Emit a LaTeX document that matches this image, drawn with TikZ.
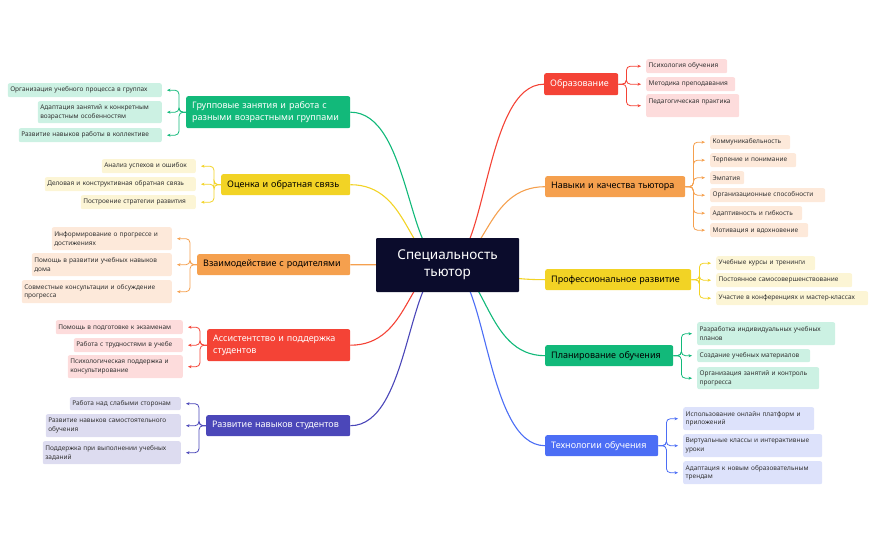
\documentclass[tikz,border=0pt]{standalone}
\usepackage{fontspec}
\setmainfont{Noto Sans}
\usetikzlibrary{arrows.meta,calc}
\definecolor{cR}{HTML}{F44336}\definecolor{lR}{HTML}{FDDCDC}
\definecolor{cO}{HTML}{F5A04E}\definecolor{lO}{HTML}{FDE9DA}
\definecolor{cY}{HTML}{F2D325}\definecolor{lY}{HTML}{FCF5D5}
\definecolor{cG}{HTML}{12B97A}\definecolor{lG}{HTML}{CCF1E3}
\definecolor{cB}{HTML}{4C6EF5}\definecolor{lB}{HTML}{DDE2FB}
\definecolor{cP}{HTML}{4B47B9}\definecolor{lP}{HTML}{DDDCF0}
\definecolor{cC}{HTML}{0B0C2C}
\tikzset{
 br/.style={rounded corners=2pt,inner sep=0pt,font=\fontsize{9}{11.5}\selectfont,align=left},
 lf/.style={rounded corners=2pt,inner sep=0pt,font=\fontsize{6.5}{8.6}\selectfont,align=left,text=black!80},
 conn/.style={line width=1.1pt},
 lc/.style={line width=0.8pt,rounded corners=4pt,-{Stealth[length=3.5pt,width=3pt]},shorten >=5pt},
}
\newcommand\lfR[7]{\node[lf,fill=#6,anchor=north west,minimum width=#4pt,minimum height=#5pt,text width=#4pt-5pt] (#1) at (#2,#3) {#7};}
\newcommand\lfL[7]{\node[lf,fill=#6,anchor=north east,minimum width=#4pt,minimum height=#5pt,text width=#4pt-5pt] (#1) at (#2,#3) {#7};}
\newcommand\bnode[8]{\node[br,fill=#6,text=#7,anchor=north west,minimum width=#4pt,minimum height=#5pt,text width=#4pt-12pt] (#1) at (#2,#3) {#8};}
\begin{document}
\begin{tikzpicture}[x=1pt,y=-1pt]
\useasboundingbox (0,0) rectangle (877,543);
\coordinate (c0) at (447,265);
\bnode{b1}{544}{73}{74}{22}{cR}{white}{Образование}
\bnode{b2}{545}{176}{140}{21}{cO}{black}{Навыки и качества тьютора}
\bnode{b3}{545}{269}{146}{21}{cY}{black}{Профессиональное развитие}
\bnode{b4}{545}{345}{128}{21}{cG}{black}{Планирование обучения}
\bnode{b5}{545}{435}{113}{21}{cB}{white}{Технологии обучения}
\bnode{a1}{186}{96}{164}{32}{cG}{white}{Групповые занятия и работа с разными возрастными группами}
\bnode{a2}{221}{174}{129}{21}{cY}{black}{Оценка и обратная связь}
\bnode{a3}{197}{254}{153}{21}{cO}{black}{Взаимодействие с родителями}
\bnode{a4}{207}{329}{143}{32}{cR}{white}{Ассистентство и поддержка студентов}
\bnode{a5}{206}{415}{144}{21}{cP}{white}{Развитие навыков студентов}
\foreach \b/\c in {b1/cR,b2/cO,b3/cY,b4/cG,b5/cB}
  \draw[conn,draw=\c] (c0) .. controls ($(c0)+(40,0)$) and ($(\b.west)+(-60,0)$) .. (\b.west);
\foreach \b/\c in {a1/cG,a2/cY,a3/cO,a4/cR,a5/cP}
  \draw[conn,draw=\c] (c0) .. controls ($(c0)+(-40,0)$) and ($(\b.east)+(60,0)$) .. (\b.east);
\node[fill=cC,text=white,minimum width=143pt,minimum height=54pt,inner sep=0pt,align=center,font=\fontsize{13.5}{17}\selectfont,rounded corners=1pt] (c) at (447.5,265) {Специальность\\тьютор};
\lfR{r11}{646}{59}{81}{14}{lR}{Психология обучения}
\lfR{r12}{646}{77}{89}{14}{lR}{Методика преподавания}
\lfR{r13}{646}{94}{93}{23}{lR}{Педагогическая практика\\\mbox{}}
\lfR{r21}{710}{135}{80}{14}{lO}{Коммуникабельность}
\lfR{r22}{710}{153}{86}{14}{lO}{Терпение и понимание}
\lfR{r23}{710}{171}{34}{13}{lO}{Эмпатия}
\lfR{r24}{710}{188}{115}{14}{lO}{Организационные способности}
\lfR{r25}{710}{206}{92}{14}{lO}{Адаптивность и гибкость}
\lfR{r26}{710}{223}{98}{14}{lO}{Мотивация и вдохновение}
\lfR{r31}{716}{256}{99}{14}{lY}{Учебные курсы и тренинги}
\lfR{r32}{716}{273}{136}{14}{lY}{Постоянное самосовершенствование}
\lfR{r33}{716}{291}{152}{14}{lY}{Участие в конференциях и мастер-классах}
\lfR{r41}{697}{322}{138}{23}{lG}{Разработка индивидуальных учебных планов}
\lfR{r42}{697}{349}{113}{13}{lG}{Создание учебных материалов}
\lfR{r43}{697}{367}{122}{22}{lG}{Организация занятий и контроль прогресса}
\lfR{r51}{683}{407}{131}{23}{lB}{Использование онлайн платформ и приложений}
\lfR{r52}{683}{434}{139}{23}{lB}{Виртуальные классы и интерактивные уроки}
\lfR{r53}{683}{461}{139}{23}{lB}{Адаптация к новым образовательным трендам}
\lfL{l11}{162}{83}{154}{14}{lG}{Организация учебного процесса в группах}
\lfL{l12}{162}{101}{124}{22}{lG}{Адаптация занятий к конкретным возрастным особенностям}
\lfL{l13}{162}{128}{143}{14}{lG}{Развитие навыков работы в коллективе}
\lfL{l21}{196}{159}{94}{14}{lY}{Анализ успехов и ошибок}
\lfL{l22}{196}{177}{151}{14}{lY}{Деловая и конструктивная обратная связь}
\lfL{l23}{196}{195}{115}{14}{lY}{Построение стратегии развития}
\lfL{l31}{172}{227}{120}{23}{lO}{Информирование о прогрессе и достижениях}
\lfL{l32}{172}{253}{140}{23}{lO}{Помощь в развитии учебных навыков дома}
\lfL{l33}{172}{280}{150}{23}{lO}{Совместные консультации и обсуждение прогресса}
\lfL{l41}{183}{320}{127}{14}{lR}{Помощь в подготовке к экзаменам}
\lfL{l42}{183}{338}{109}{14}{lR}{Работа с трудностями в учебе}
\lfL{l43}{183}{355}{115}{23}{lR}{Психологическая поддержка и консультирование}
\lfL{l51}{181}{397}{111}{13}{lP}{Работа над слабыми сторонам}
\lfL{l52}{181}{414}{135}{23}{lP}{Развитие навыков самостоятельного обучения}
\lfL{l53}{181}{441}{138}{23}{lP}{Поддержка при выполнении учебных заданий}
\foreach \b/\c/\l in {b1/cR/r11,b1/cR/r12,b1/cR/r13,b2/cO/r21,b2/cO/r22,b2/cO/r23,b2/cO/r24,b2/cO/r25,b2/cO/r26,b3/cY/r31,b3/cY/r32,b3/cY/r33,b4/cG/r41,b4/cG/r42,b4/cG/r43,b5/cB/r51,b5/cB/r52,b5/cB/r53}
  \draw[lc,draw=\c] (\b.east) -- ++(8,0) |- (\l.west);
\foreach \b/\c/\l in {a1/cG/l11,a1/cG/l12,a1/cG/l13,a2/cY/l21,a2/cY/l22,a2/cY/l23,a3/cO/l31,a3/cO/l32,a3/cO/l33,a4/cR/l41,a4/cR/l42,a4/cR/l43,a5/cP/l51,a5/cP/l52,a5/cP/l53}
  \draw[lc,draw=\c] (\b.west) -- ++(-7,0) |- (\l.east);
\end{tikzpicture}
\end{document}
